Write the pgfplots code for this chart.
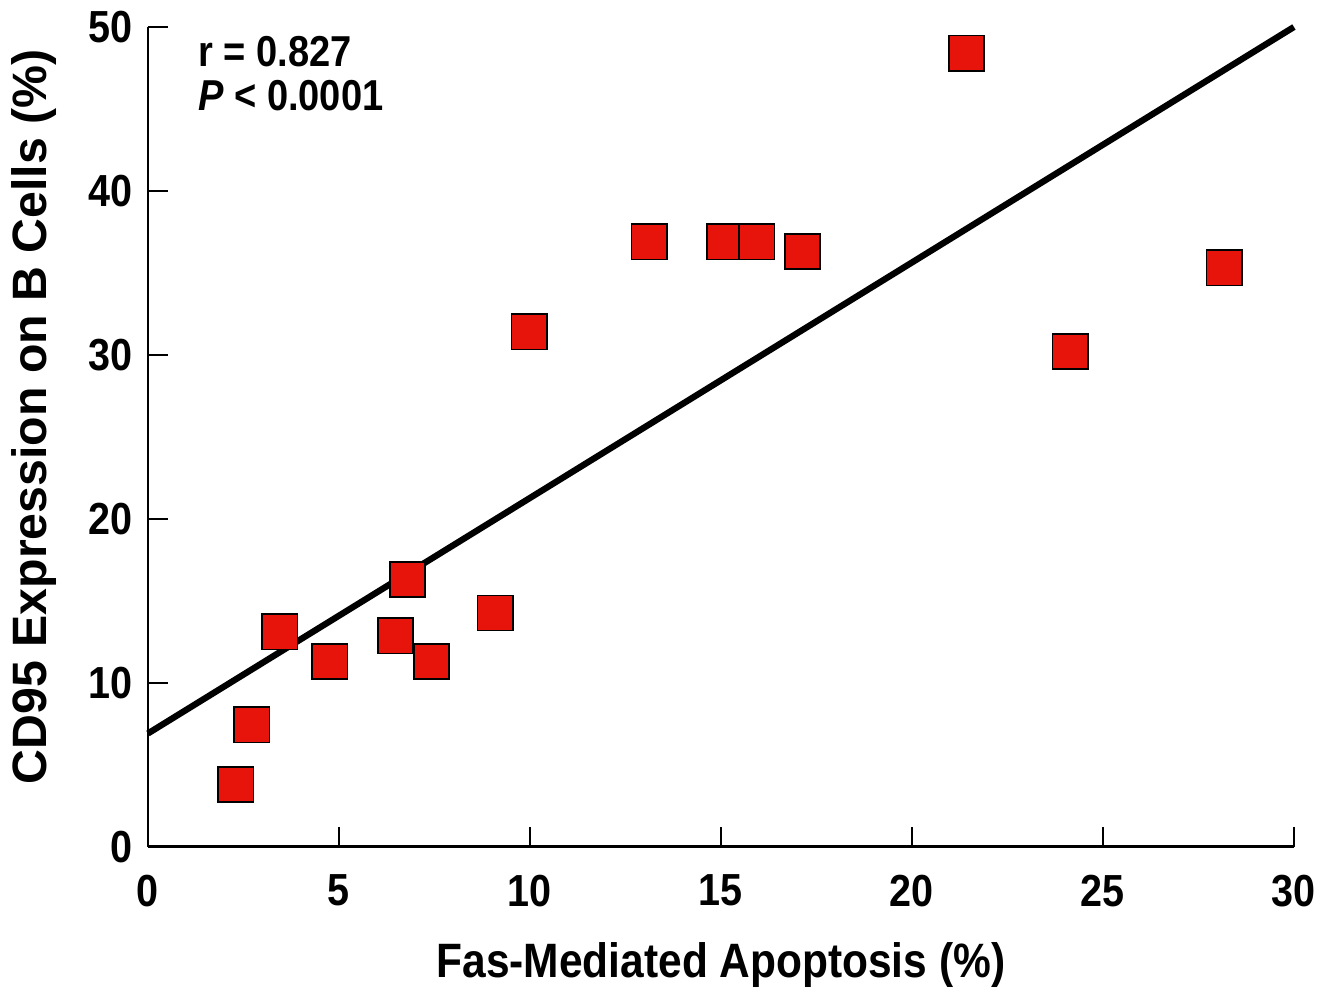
\documentclass[border=0pt]{standalone}
\usepackage{pgfplots}
\pgfplotsset{compat=1.18}
\usepackage{fontspec}
\setmainfont{Liberation Sans}
\newfontfamily\cond{Liberation Sans}[FakeStretch=0.88]
\definecolor{mred}{RGB}{230,20,10}
\begin{document}
\begin{tikzpicture}
\begin{axis}[
  scale only axis,
  width=344.4pt, height=246.3pt,
  xmin=0, xmax=30, ymin=0, ymax=50,
  axis x line*=bottom, axis y line*=left,
  axis line style={line width=0.7pt, -},
  xtick={0,5,...,30}, ytick={0,10,...,50},
  tick align=inside,
  major tick length=6pt,
  tick style={line width=0.6pt, black},
  /pgf/number format/assume math mode=true,
  ticklabel style={font=\cond\bfseries\fontsize{13.5}{14}\selectfont},
  xticklabel style={yshift=-5pt},
  yticklabel style={xshift=-1pt},
  xlabel={Fas-Mediated Apoptosis (\%)},
  ylabel={CD95 Expression on B Cells (\%)},
  xlabel style={font=\cond\bfseries\fontsize{14.5}{16}\selectfont, yshift=-4pt},
  ylabel style={font=\bfseries\fontsize{14.5}{16}\selectfont, yshift=3pt, xshift=6pt},
  clip=false,
]
\addplot[black, line width=1.9pt] coordinates {(0,6.9) (30,50)};
\addplot[only marks, mark=square*, mark size=5.3pt,
  mark options={fill=mred, draw=black, line width=0.5pt}] coordinates {
(2.30,3.78) (2.72,7.43) (3.45,13.1) (4.76,11.3) (6.48,12.85) (6.79,16.3)
(7.42,11.3) (9.09,14.25) (9.98,31.4) (13.12,36.9) (15.1,36.9) (15.94,36.9)
(17.14,36.3) (21.43,48.4) (24.14,30.2) (28.17,35.3)
};
\node[anchor=north west, align=left, inner sep=0pt,
  font=\cond\bfseries\fontsize{13}{13.5}\selectfont]
  at (axis cs:1.3,49.5) {r = 0.827\\\textit{P} < 0.0001};
\path (rel axis cs:0,1) ++(0,8pt);
\path (rel axis cs:1,0) ++(9pt,0);
\end{axis}
\end{tikzpicture}
\end{document}
